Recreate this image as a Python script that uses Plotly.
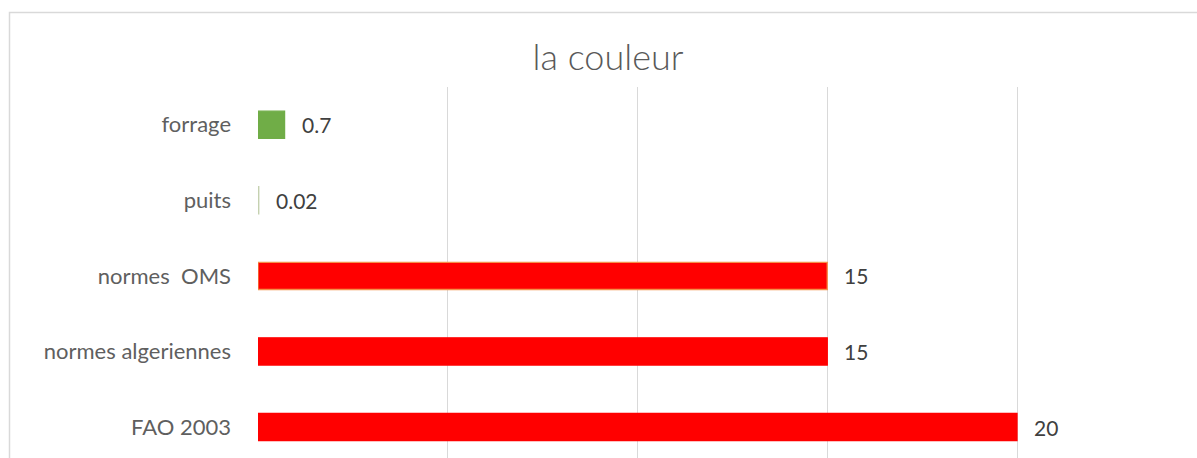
import plotly.graph_objects as go

# Data (bottom to top as drawn)
categories = ["FAO 2003", "normes algeriennes", "normes  OMS", "puits", "forrage"]
values = [20, 15, 15, 0.02, 0.7]
value_labels = ["20", "15", "15", "0.02", "0.7"]
bar_colors = ["#ff0000", "#ff0000", "#ff0000", "#c5d1b0", "#70ad47"]
line_colors = ["#ff0000", "#ff0000", "#f4904a", "#c5d1b0", "#70ad47"]

W, H = 1197, 458
L, T = 258, 87
plot_w, plot_h = W - L, H - T
FONT = "Lato, Carlito, sans-serif"

fig = go.Figure()
fig.add_trace(go.Bar(
    x=values, y=list(range(len(categories))), orientation="h",
    marker=dict(color=bar_colors, line=dict(color=line_colors, width=1.3)),
    width=0.36, hoverinfo="x+y", showlegend=False,
))

annotations = []
for i, (v, lab) in enumerate(zip(values, value_labels)):
    annotations.append(dict(
        x=v, y=i, xref="x", yref="y", text=lab, showarrow=False,
        xanchor="left", yanchor="middle", xshift=15,
        font=dict(family=FONT, size=21, color="#404040"),
    ))

fig.update_layout(
    width=W, height=H,
    margin=dict(l=L, r=0, t=T, b=0, pad=0),
    paper_bgcolor="white", plot_bgcolor="white",
    title=dict(text="la couleur", x=608 / W, xanchor="center",
               y=1 - 57 / H, yanchor="middle", yref="container",
               font=dict(family=FONT, size=36, color="#595959", weight=300)),
    xaxis=dict(range=[0, plot_w / 37.95], tickvals=[0, 5, 10, 15, 20], showticklabels=False,
               showgrid=True, gridcolor="#d9d9d9", gridwidth=1, zeroline=False,
               showline=False, fixedrange=True),
    yaxis=dict(range=[-0.41, 4.5], tickvals=list(range(len(categories))), ticktext=categories,
               showgrid=False, zeroline=False, showline=False, ticks="",
               ticklabelstandoff=26,
               tickfont=dict(family=FONT, size=22, color="#5f5f5f")),
    annotations=annotations,
    shapes=[dict(type="rect", xref="paper", yref="paper",
                 x0=(9.5 - L) / plot_w, x1=(1200 - L) / plot_w,
                 y0=-0.1, y1=(H - 12.5) / plot_h,
                 line=dict(color="#d9d9d9", width=1.5), fillcolor="rgba(0,0,0,0)", layer="below")],
)

fig.write_html("out.html", config={"displayModeBar": False})

# remove default page margin so the figure sits at the window origin
with open("out.html", "r", encoding="utf-8") as f:
    html = f.read()
html = html.replace("<head>", "<head><style>html,body{margin:0;padding:0;overflow:hidden;}</style>", 1)
with open("out.html", "w", encoding="utf-8") as f:
    f.write(html)
